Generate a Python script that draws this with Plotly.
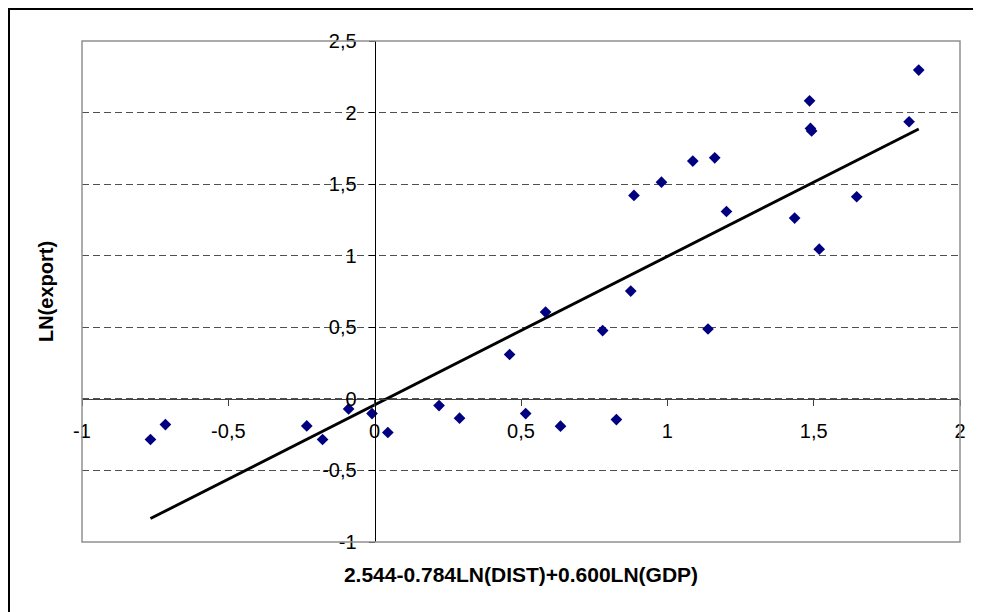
import plotly.graph_objects as go

# Data
x_vals = [-0.766, -0.715, -0.232, -0.178, -0.089, -0.009, 0.045, 0.220, 0.290, 0.461,
          0.516, 0.584, 0.635, 0.779, 0.826, 0.875, 1.139, 0.886, 0.980, 1.087,
          1.162, 1.202, 1.859, 1.486, 1.489, 1.493, 1.826, 1.647, 1.435, 1.519]
y_vals = [-0.284, -0.180, -0.189, -0.284, -0.070, -0.103, -0.235, -0.047, -0.135, 0.310,
          -0.103, 0.606, -0.191, 0.477, -0.145, 0.753, 0.488, 1.421, 1.514, 1.661,
          1.684, 1.309, 2.297, 2.082, 1.889, 1.872, 1.936, 1.412, 1.263, 1.046]

trend_slope = 1.037
trend_intercept = -0.042

x_tick_vals = [-1, -0.5, 0, 0.5, 1, 1.5, 2]
x_tick_text = ["-1", "-0,5", "0", "0,5", "1", "1,5", "2"]
y_tick_vals = [-1, -0.5, 0, 0.5, 1, 1.5, 2, 2.5]
y_tick_text = ["-1", "-0,5", "0", "0,5", "1", "1,5", "2", "2,5"]

x_title = "2.544-0.784LN(DIST)+0.600LN(GDP)"
y_title = "LN(export)"

x_range = [-1, 2]
y_range = [-1, 2.5]

tx = [min(x_vals), max(x_vals)]
ty = [trend_slope * v + trend_intercept for v in tx]

FONT = "Liberation Sans, Arial, sans-serif"

# page body has an 8px margin; plot area lands at x 82..960, y 41..542
ML, MT, MR, MB = 74, 33, 21, 70
W, H = 973, 604
PW, PH = W - ML - MR, H - MT - MB

fig = go.Figure()
fig.add_trace(go.Scatter(
    x=tx, y=ty, mode="lines",
    line=dict(color="black", width=2.9),
    hoverinfo="skip", showlegend=False,
))
fig.add_trace(go.Scatter(
    x=x_vals, y=y_vals, mode="markers",
    marker=dict(symbol="diamond", size=9, color="#000080", line=dict(width=0)),
    showlegend=False,
))

fig.update_layout(
    width=W, height=H,
    margin=dict(l=ML, r=MR, t=MT, b=MB, autoexpand=False),
    paper_bgcolor="white", plot_bgcolor="white",
    font=dict(family=FONT, size=20, color="black"),
    xaxis=dict(
        range=x_range, anchor="free", position=(0 - y_range[0]) / (y_range[1] - y_range[0]),
        tickvals=x_tick_vals, ticktext=x_tick_text,
        ticks="outside", ticklen=6, tickcolor="#404040", tickwidth=1,
        ticklabelstandoff=8,
        showline=True, linecolor="#404040", linewidth=1,
        showgrid=False, zeroline=False,
        tickfont=dict(family=FONT, size=20, color="black"),
        title=dict(text=x_title, font=dict(family=FONT, size=21, color="black", weight="bold"),
                   standoff=126),
    ),
    yaxis=dict(
        range=y_range, anchor="free", position=(0 - x_range[0]) / (x_range[1] - x_range[0]),
        tickvals=y_tick_vals, ticktext=y_tick_text,
        ticks="outside", ticklen=6, tickcolor="black", tickwidth=1,
        ticklabelstandoff=8,
        showline=True, linecolor="black", linewidth=1,
        showgrid=True, gridcolor="#505050", gridwidth=1, griddash="7px,4px",
        zeroline=False,
        tickfont=dict(family=FONT, size=20, color="black"),
        title=dict(text=y_title, font=dict(family=FONT, size=20, color="black", weight="bold"),
                   standoff=262),
    ),
    shapes=[
        dict(type="rect", xref="paper", yref="paper", x0=0, x1=1, y0=0, y1=1,
             line=dict(color="#909090", width=1.5), layer="above"),
        dict(type="rect", xref="paper", yref="paper",
             x0=(1 - ML) / PW, x1=(W + 10 - ML) / PW,
             y0=1 - (H + 10 - MT) / PH, y1=1 - (1 - MT) / PH,
             line=dict(color="black", width=2)),
    ],
)

fig.write_html("out.html")
